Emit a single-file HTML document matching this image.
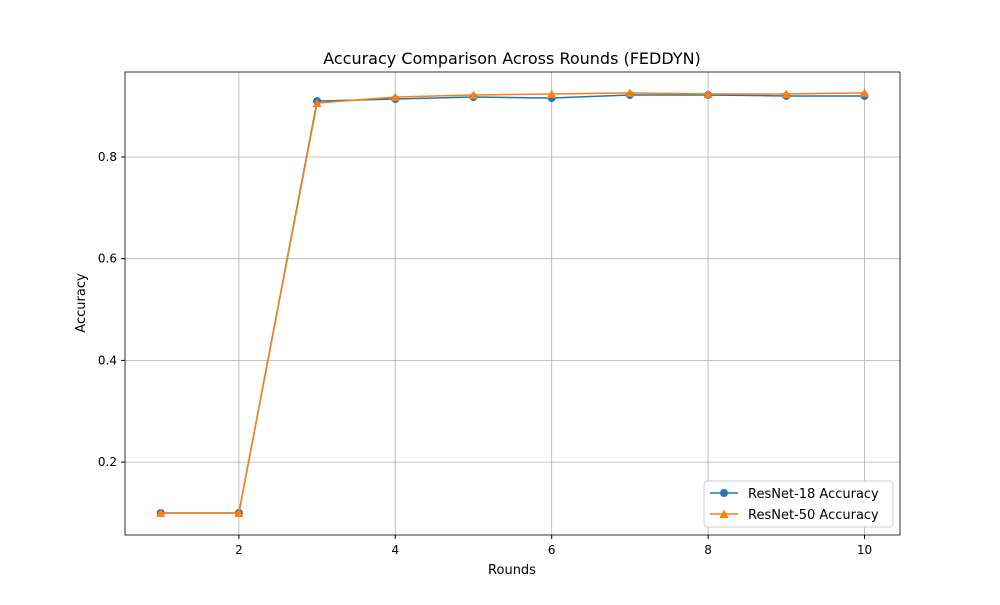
<!DOCTYPE html>
<html><head><meta charset="utf-8"><style>
body{margin:0;background:#fff;font-family:"Liberation Sans","DejaVu Sans",sans-serif;}
svg text{font-family:"DejaVu Sans","Liberation Sans",sans-serif;}
</style></head><body>
<svg id="chart" width="1000" height="600" xmlns="http://www.w3.org/2000/svg">
<rect width="1000" height="600" fill="#fff"/>
<text x="512" y="64" font-size="16" text-anchor="middle">Accuracy Comparison Across Rounds (FEDDYN)</text>
<g id="grid"></g><g id="axes"></g><g id="series"></g>
<text x="512" y="574" font-size="13" text-anchor="middle">Rounds</text>
<text x="85" y="303" font-size="13" text-anchor="middle" transform="rotate(-90 85 303)">Accuracy</text>
<g>
<rect x="704" y="481" width="189" height="46" rx="3" fill="#fff" stroke="#ccc"/>
<g>
<line x1="710" y1="493" x2="738" y2="493" stroke="#1f77b4" stroke-width="1.5"/><circle cx="724" cy="493" r="4" fill="#1f77b4"/>
<text x="748" y="498" font-size="13">ResNet-18 Accuracy</text></g>
<g>
<line x1="710" y1="514" x2="738" y2="514" stroke="#ff7f0e" stroke-width="1.5"/><polygon points="724,509.5 728.5,518 719.5,518" fill="#ff7f0e"/>
<text x="748" y="519" font-size="13">ResNet-50 Accuracy</text></g>
</g>
</svg>
<script>
const rounds=[1,2,3,4,5,6,7,8,9,10];
const resnet18=[0.1,0.1,0.91,0.914,0.918,0.916,0.922,0.922,0.92,0.92];
const resnet50=[0.1,0.1,0.906,0.918,0.922,0.924,0.926,0.924,0.924,0.926];
const xTicks=[2,4,6,8,10];
const yTicks=[0.2,0.4,0.6,0.8];
const L=125,R=900,T=72,B=535;
const xs=v=>160.7+(v-1)*78.2;
const ys=v=>157-(v-0.8)*508.5;
const NS="http://www.w3.org/2000/svg";
function mk(tag,attrs,parent){const e=document.createElementNS(NS,tag);for(const k in attrs)e.setAttribute(k,attrs[k]);parent.appendChild(e);return e;}
const grid=document.getElementById('grid'),axes=document.getElementById('axes'),ser=document.getElementById('series');
xTicks.forEach(t=>{const x=xs(t);
 const g=mk('line',{x1:x,x2:x,y1:T,y2:B,stroke:'#b0b0b0','stroke-width':0.8},grid);
 
 
 mk('line',{x1:x,x2:x,y1:B,y2:B+4,stroke:'#000'},axes);
 const tx=mk('text',{x:x,y:B+19,'font-size':12,'text-anchor':'middle'},axes);tx.textContent=t;
 
 });
yTicks.forEach(t=>{const y=ys(t);
 const g=mk('line',{x1:L,x2:R,y1:y,y2:y,stroke:'#b0b0b0','stroke-width':0.8},grid);
 
 
 mk('line',{x1:L-4,x2:L,y1:y,y2:y,stroke:'#000'},axes);
 const tx=mk('text',{x:L-8,y:y+4,'font-size':12,'text-anchor':'end'},axes);tx.textContent=t.toFixed(1);
 
 });
const fr=mk('rect',{x:L,y:T,width:R-L,height:B-T,fill:'none',stroke:'#000','stroke-width':0.8},axes);


function draw(data,color,name,tri){
 const pl=mk('polyline',{points:data.map((v,i)=>xs(rounds[i])+','+ys(v)).join(' '),fill:'none',stroke:color,'stroke-width':1.5},ser);
 
 
 data.forEach((v,i)=>{const x=xs(rounds[i]),y=ys(v);let m;
  if(tri)m=mk('polygon',{points:`${x},${y-4.5} ${x+4.5},${y+4} ${x-4.5},${y+4}`,fill:color},ser);
  else m=mk('circle',{cx:x,cy:y,r:4,fill:color},ser);
  
  });
}
draw(resnet18,'#1f77b4','resnet18',false);
draw(resnet50,'#ff7f0e','resnet50',true);
</script>
</body></html>
